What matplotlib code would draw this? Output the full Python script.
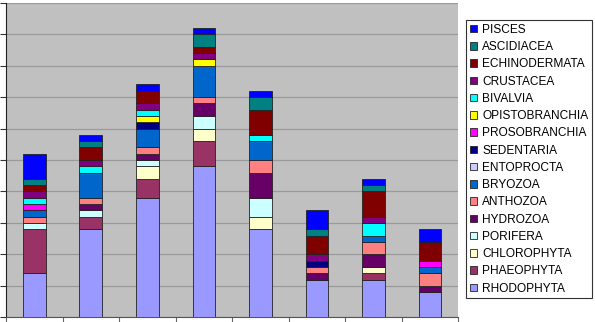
import numpy as np
import matplotlib.pyplot as plt

plt.rcParams['font.family'] = ['Liberation Sans', 'DejaVu Sans']

categories = ['1', '2', '3', '4', '5', '6', '7', '8']

groups = ["RHODOPHYTA", "PHAEOPHYTA", "CHLOROPHYTA", "PORIFERA", "HYDROZOA",
          "ANTHOZOA", "BRYOZOA", "ENTOPROCTA", "SEDENTARIA", "PROSOBRANCHIA",
          "OPISTOBRANCHIA", "BIVALVIA", "CRUSTACEA", "ECHINODERMATA",
          "ASCIDIACEA", "PISCES"]

rhodophyta     = [7, 14, 19, 24, 14, 6, 6, 4]
phaeophyta     = [7, 2, 3, 4, 0, 0, 1, 0]
chlorophyta    = [0, 0, 2, 2, 2, 0, 1, 0]
porifera       = [1, 1, 1, 2, 3, 0, 0, 0]
hydrozoa       = [0, 1, 1, 2, 4, 1, 2, 1]
anthozoa       = [1, 1, 1, 1, 2, 1, 2, 2]
bryozoa        = [1, 4, 3, 5, 3, 0, 1, 1]
entoprocta     = [0, 0, 0, 0, 0, 0, 0, 0]
sedentaria     = [0, 0, 1, 0, 0, 1, 0, 0]
prosobranchia  = [1, 0, 0, 0, 0, 0, 0, 1]
opistobranchia = [0, 0, 1, 1, 0, 0, 0, 0]
bivalvia       = [1, 1, 1, 0, 1, 0, 2, 0]
crustacea      = [1, 1, 1, 1, 0, 1, 1, 0]
echinodermata  = [1, 2, 2, 1, 4, 3, 4, 3]
ascidiacea     = [1, 1, 0, 2, 2, 1, 1, 0]
pisces         = [4, 1, 1, 1, 1, 3, 1, 2]

values = [rhodophyta, phaeophyta, chlorophyta, porifera, hydrozoa, anthozoa,
          bryozoa, entoprocta, sedentaria, prosobranchia, opistobranchia,
          bivalvia, crustacea, echinodermata, ascidiacea, pisces]

colors = ['#9999FF', '#993366', '#FFFFCC', '#CCFFFF', '#660066', '#FF8080',
          '#0066CC', '#CCCCFF', '#000080', '#FF00FF', '#FFFF00', '#00FFFF',
          '#800080', '#800000', '#008080', '#0000FF']

fig = plt.figure(figsize=(5.95, 3.22), dpi=100)
ax = fig.add_axes([6 / 595, 4.7 / 322, 452.3 / 595, 314.6 / 322])
ax.set_facecolor('#C0C0C0')

x = np.arange(len(categories))
bottom = np.zeros(len(categories))
handles = []
for name, vals, col in zip(groups, values, colors):
    vals = np.array(vals, dtype=float)
    h = ax.bar(x, vals, 0.4, bottom=bottom, color=col, edgecolor='#222222',
               linewidth=0.6, label=name, zorder=3)
    handles.append(h)
    bottom += vals

ax.set_xlim(-0.5, len(categories) - 0.5)
ax.set_ylim(0, 50)
ax.set_yticks(np.arange(0, 51, 5))
ax.set_yticklabels([])
ax.set_xticks(np.arange(-0.5, len(categories), 1))
ax.set_xticklabels([])
ax.tick_params(axis='y', direction='out', length=4, width=0.8, color='#333333')
ax.tick_params(axis='x', direction='out', length=4, width=0.8, color='#666666')
ax.grid(axis='y', color='#9a9a9a', linewidth=0.9, zorder=0)
ax.set_axisbelow(True)
for s in ['top', 'right']:
    ax.spines[s].set_visible(False)
ax.spines['left'].set_color('#222222')
ax.spines['bottom'].set_color('#555555')

leg = fig.legend(handles[::-1], groups[::-1], loc='upper left',
                 bbox_to_anchor=(466 / 595, 1 - 20 / 322), borderaxespad=0,
                 fontsize=8.6, labelspacing=0.44, handlelength=0.6,
                 handleheight=0.6, handletextpad=0.45, borderpad=0.32,
                 fancybox=False, framealpha=1, edgecolor='#333333')
leg.get_frame().set_linewidth(0.8)

fig.savefig('out.png', dpi=100)
